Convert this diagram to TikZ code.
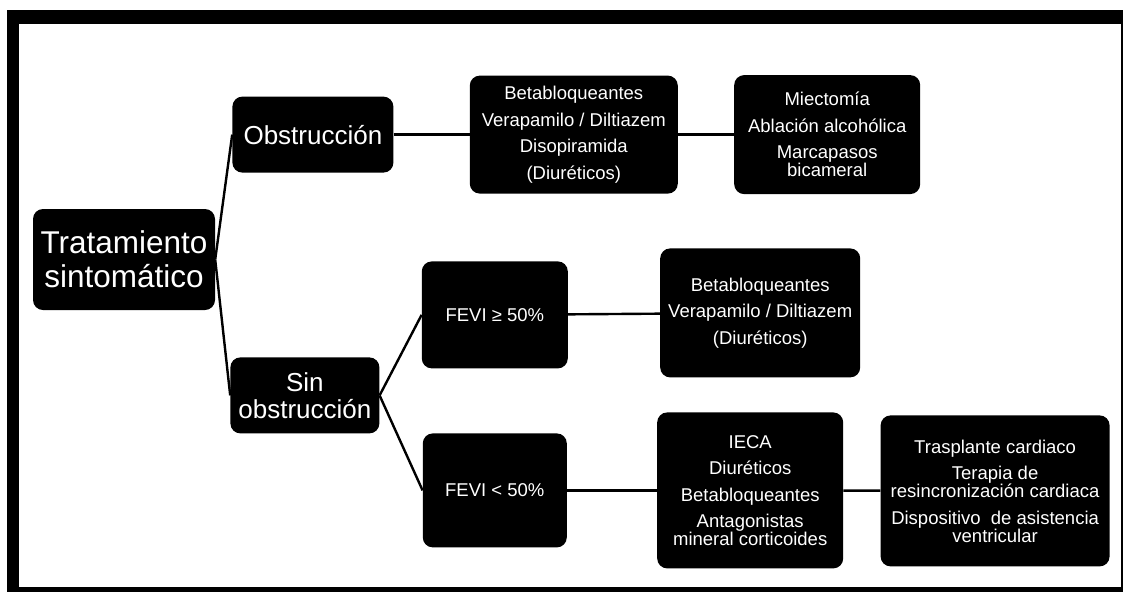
\documentclass[tikz,border=0pt]{standalone}
\usepackage{fontspec}
\setmainfont{Liberation Sans}
\usepackage{tikz}
\usetikzlibrary{positioning}
\newcommand{\Ps}{\\[8.5pt]}

\begin{document}
\begin{tikzpicture}[
  x=1pt, y=1pt,
  box/.style={
    rectangle, rounded corners=10pt, fill=black, text=white,
    align=center, inner sep=0pt
  },
  rootbox/.style={box, font=\fontsize{31.5}{34}\selectfont},
  branch/.style={box, font=\fontsize{26}{27}\selectfont},
  therapy/.style={box, font=\fontsize{18.5}{18}\selectfont},
  conn/.style={line width=2.4pt, black},
]
% ── Frame ──
\useasboundingbox (0,0) rectangle (1123,-592);
\fill[black] (7,-10) rectangle (1123,-592);
\fill[white] (19,-24) rectangle (1121,-587);

% ── Nodes ──
\node[rootbox, minimum width=182pt, minimum height=101pt] (sint) at (124,-259.5)
  {Tratamiento\\sintomático};

\node[branch, minimum width=161pt, minimum height=76pt,
  above right=36pt and 17pt of sint] (obs)
  {Obstrucción};

\node[branch, minimum width=149pt, minimum height=76pt,
  below right=47pt and 15pt of sint] (sinobs)
  {Sin\\obstrucción};

\node[therapy, minimum width=208pt, minimum height=118pt, right=76pt of obs] (obsfarm)
  {Betabloqueantes\Ps Verapamilo / Diltiazem\Ps Disopiramida\Ps (Diuréticos)};

\node[therapy, minimum width=186pt, minimum height=119pt, right=56pt of obsfarm] (obsinv)
  {Miectomía\Ps Ablación alcohólica\Ps Marcapasos\\bicameral};

\node[therapy, minimum width=146pt, minimum height=107pt,
  right=42pt of sinobs, yshift=80.5pt] (fevialta)
  {FEVI ≥ 50\%};

\node[therapy, minimum width=144pt, minimum height=114pt,
  right=43pt of sinobs, yshift=-95pt] (fevibaja)
  {FEVI < 50\%};

\node[therapy, minimum width=200pt, minimum height=129pt,
  right=92pt of fevialta, yshift=2pt] (altafarm)
  {Betabloqueantes\Ps Verapamilo / Diltiazem\Ps (Diuréticos)};

\node[therapy, minimum width=186pt, minimum height=156pt, right=90pt of fevibaja] (bajafarm)
  {IECA\Ps Diuréticos\Ps Betabloqueantes\Ps Antagonistas\\mineral corticoides};

\node[therapy, minimum width=229pt, minimum height=151pt,
  right=37pt of bajafarm, yshift=-0.5pt] (bajadisp)
  {Trasplante cardiaco\Ps Terapia de\\resincronización cardiaca\Ps
   Dispositivo\ \ de asistencia\\ventricular};

% ── Edges ──
\draw[conn] (sint.east) -- (obs.west);
\draw[conn] (sint.east) -- (sinobs.west);
\draw[conn] (obs) -- (obsfarm);
\draw[conn] (obsfarm) -- (obsinv);
\draw[conn] (sinobs.east) -- (fevialta.west);
\draw[conn] (sinobs.east) -- (fevibaja.west);
\draw[conn] (fevialta) -- (altafarm);
\draw[conn] (fevibaja) -- (bajafarm);
\draw[conn] (bajafarm) -- (bajadisp);
\end{tikzpicture}
\end{document}
